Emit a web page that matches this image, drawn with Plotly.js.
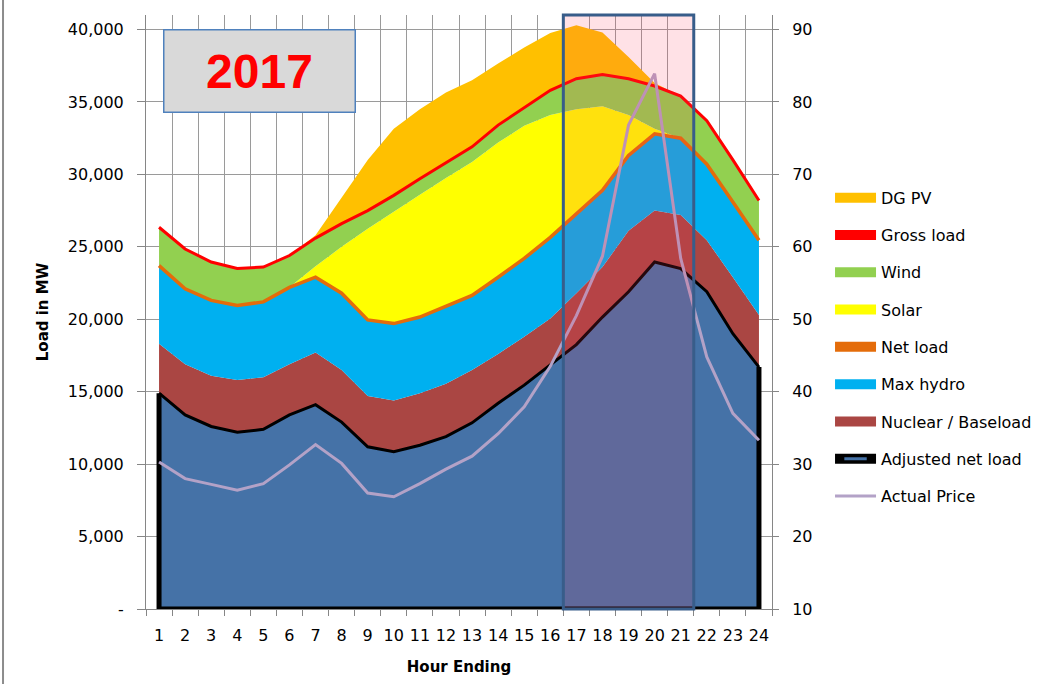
<!DOCTYPE html>
<html>
<head>
<meta charset="utf-8">
<script src="https://cdn.plot.ly/plotly-3.0.1.min.js"></script>
<style>
  html, body { margin: 0; padding: 0; background: #ffffff; }
  #chart { width: 1057px; height: 684px; }
</style>
</head>
<body>
<div id="chart"></div>
<script>
// ---------------- data ----------------
const hours = [1,2,3,4,5,6,7,8,9,10,11,12,13,14,15,16,17,18,19,20,21,22,23,24];
const hourLabels = ['1','2','3','4','5','6','7','8','9','10','11','12','13','14','15','16','17','18','19','20','21','22','23','24'];

// cumulative levels in MW
const adjustedNetLoad = [14900,13400,12600,12200,12400,13400,14100,12900,11200,10850,11300,11900,12850,14200,15450,16850,18250,20150,21900,23950,23500,21900,19000,16700];
const nuclearTop      = [18300,16900,16100,15800,16000,16900,17700,16500,14700,14400,14900,15550,16500,17600,18800,20050,21800,23600,26100,27500,27200,25450,22900,20300];
const netLoad         = [23700,22100,21300,20950,21200,22200,22900,21800,19950,19700,20150,20900,21650,22900,24200,25650,27300,28900,31300,32800,32500,30700,28100,25450];
const solarTop        = [23700,22100,21300,20950,21200,22200,23650,25000,26250,27450,28600,29750,30850,32200,33350,34100,34500,34700,34100,33150,32500,30700,28100,25450];
const grossLoad       = [26350,24850,23950,23500,23600,24400,25600,26600,27500,28550,29700,30800,31900,33400,34600,35800,36600,36900,36600,36100,35400,33700,31000,28200];
const dgpvTop         = [26350,24850,23950,23500,23600,24400,25800,28400,31000,33150,34500,35650,36500,37650,38750,39750,40300,39800,38100,36300,35400,33700,31000,28200];
// $/MWh on the right axis
const actualPrice     = [30.3,28.0,27.2,26.4,27.3,29.9,32.7,30.1,26.0,25.5,27.3,29.3,31.1,34.2,37.9,43.5,50.5,58.7,76.8,83.9,58.4,44.8,37.0,33.3];

const loadTickVals  = [0,5000,10000,15000,20000,25000,30000,35000,40000];
const loadTickText  = ['-','5,000','10,000','15,000','20,000','25,000','30,000','35,000','40,000'];
const priceTickVals = [10,20,30,40,50,60,70,80,90];
const peakWindow    = [16.5, 21.5];   // highlighted evening hours (HE17-HE21)
const yearLabel     = '2017';

// ---------------- colours ----------------
const C = {
  adj: '#4572A7', nuc: '#AA4643', hydro: '#00B0F0', solar: '#FFFF00',
  wind: '#92D050', dgpv: '#FFC000', net: '#E46C0A', gross: '#FF0000', price: '#B3A2C7'
};

const base = {x: hours, mode: 'lines', hoverinfo: 'skip', showlegend: false};
const traces = [
  Object.assign({}, base, {name: 'Adjusted net load', y: adjustedNetLoad, fill: 'tozeroy', fillcolor: C.adj, line: {color: '#000000', width: 3}}),
  Object.assign({}, base, {name: 'Nuclear / Baseload', y: nuclearTop, fill: 'tonexty', fillcolor: C.nuc, line: {width: 0}}),
  Object.assign({}, base, {name: 'Max hydro', y: netLoad, fill: 'tonexty', fillcolor: C.hydro, line: {width: 0}}),
  Object.assign({}, base, {name: 'Solar', y: solarTop, fill: 'tonexty', fillcolor: C.solar, line: {width: 0}}),
  Object.assign({}, base, {name: 'Wind', y: grossLoad, fill: 'tonexty', fillcolor: C.wind, line: {width: 0}}),
  Object.assign({}, base, {name: 'DG PV', y: dgpvTop, fill: 'tonexty', fillcolor: C.dgpv, line: {width: 0}}),
  Object.assign({}, base, {name: 'Net load', y: netLoad, line: {color: C.net, width: 3.5}}),
  Object.assign({}, base, {name: 'Gross load', y: grossLoad, line: {color: C.gross, width: 3}}),
  // side and bottom edges of the adjusted-net-load area
  Object.assign({}, base, {name: 'edges',
    x: [hours[0], hours[0], hours[hours.length-1], hours[hours.length-1]],
    y: [adjustedNetLoad[0], 0, 0, adjustedNetLoad[adjustedNetLoad.length-1]],
    line: {color: '#000000', width: 5}}),
  Object.assign({}, base, {name: 'Actual Price', y: actualPrice, yaxis: 'y2', line: {color: C.price, width: 3}})
];

// legend entries (swatches)
const legendItems = [
  {name: 'DG PV', color: C.dgpv, width: 10},
  {name: 'Gross load', color: C.gross, width: 10},
  {name: 'Wind', color: C.wind, width: 10},
  {name: 'Solar', color: C.solar, width: 10},
  {name: 'Net load', color: C.net, width: 10},
  {name: 'Max hydro', color: C.hydro, width: 10},
  {name: 'Nuclear / Baseload', color: C.nuc, width: 10},
  {name: 'Adjusted net load', color: '#000000', width: 10, marker: true},
  {name: 'Actual Price', color: C.price, width: 3}
];
legendItems.forEach(function (it, i) {
  const t = {x: [null], y: [null], name: it.name, mode: it.marker ? 'lines+markers' : 'lines',
    line: {color: it.color, width: it.width}, legendgroup: 'g' + i, legendrank: i + 1,
    showlegend: true, hoverinfo: 'skip'};
  if (it.marker) t.marker = {symbol: 'line-ew', size: 16, line: {color: C.adj, width: 3}};
  traces.push(t);
});

const gridC = '#9A9A9A', axisC = '#868686';
const layout = {
  width: 1057, height: 684,
  margin: {l: 146, r: 285, t: 15, b: 75},
  paper_bgcolor: '#ffffff', plot_bgcolor: '#ffffff',
  font: {family: 'DejaVu Sans, sans-serif', size: 16, color: '#000000'},
  showlegend: true,
  legend: {x: 1.0927, xanchor: 'left', y: 0.721, yanchor: 'top', traceorder: 'grouped',
    tracegroupgap: 13.5, itemwidth: 41, font: {size: 16}, bgcolor: 'rgba(0,0,0,0)'},
  xaxis: {range: [0.5, 24.5], tickmode: 'array', tickvals: hours, ticktext: hourLabels,
    ticks: '', showgrid: false, zeroline: false, showline: true, linecolor: axisC, linewidth: 1,
    ticklabelstandoff: 12,
    minor: {tick0: 0.5, dtick: 1, ticks: 'outside', ticklen: 6, tickcolor: axisC, showgrid: true, gridcolor: gridC, gridwidth: 1},
    title: {text: '<b>Hour Ending</b>', font: {size: 15}, standoff: 17}},
  yaxis: {range: [0, 41000], tickmode: 'array', tickvals: loadTickVals, ticktext: loadTickText,
    ticks: 'outside', ticklen: 8, tickcolor: axisC, showgrid: true, gridcolor: gridC, gridwidth: 1,
    zeroline: false, showline: true, linecolor: axisC, ticklabelstandoff: 10,
    title: {text: '<b>Load in MW</b>', font: {size: 15}, standoff: 15}},
  yaxis2: {overlaying: 'y', side: 'right', range: [10, 92], tickmode: 'array', tickvals: priceTickVals,
    ticks: 'outside', ticklen: 6, tickcolor: axisC, showgrid: false, zeroline: false,
    showline: true, linecolor: axisC, ticklabelstandoff: 10},
  shapes: [
    {type: 'rect', xref: 'x', yref: 'paper', x0: peakWindow[0], x1: peakWindow[1], y0: 0, y1: 1,
      fillcolor: 'rgba(255,55,88,0.15)', line: {width: 0}, layer: 'above'},
    {type: 'rect', xref: 'x', yref: 'paper', x0: peakWindow[0], x1: peakWindow[1], y0: 0, y1: 1,
      fillcolor: 'rgba(0,0,0,0)', line: {color: '#385D8A', width: 3}, layer: 'above'},
    {type: 'line', xref: 'paper', yref: 'paper', x0: -0.2284, x1: -0.2284, y0: -0.13, y1: 1.03,
      line: {color: '#8C8C8C', width: 2}}
  ],
  annotations: [
    {xref: 'paper', yref: 'paper', x: 0.1821, y: 0.9049, xanchor: 'center', yanchor: 'middle',
      text: '<b>' + yearLabel + '</b>', showarrow: false, width: 190, height: 81,
      bgcolor: '#D9D9D9', bordercolor: '#4F81BD', borderwidth: 1.5, borderpad: 0,
      font: {family: 'Liberation Sans, Arial, sans-serif', size: 48, color: '#FF0000'}}
  ]
};

Plotly.newPlot('chart', traces, layout, {displayModeBar: false, staticPlot: true});
</script>
</body>
</html>
